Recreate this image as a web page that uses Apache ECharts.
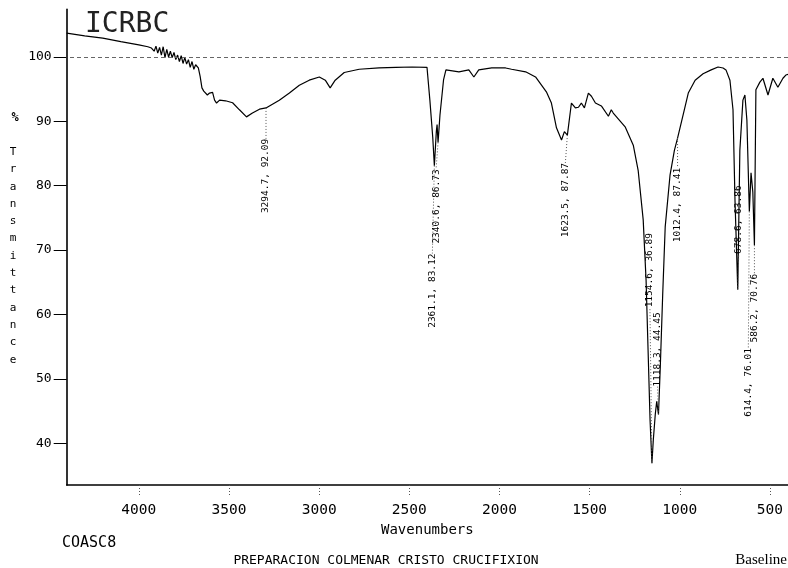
<!DOCTYPE html>
<html><head><meta charset="utf-8">
<script src="https://cdn.jsdelivr.net/npm/echarts@6/dist/echarts.min.js"></script>
<style>html,body{margin:0;padding:0;background:#fff}#c{width:788px;height:568px}</style>
</head><body><div id="c"></div>
<script>
// ---- data ----
const wavenumbers = [4400,4300,4200,4100,4000,3950,3930,3915,3905,3895,3885,3875,3865,3855,3845,3835,3825,3815,3805,3795,3785,3775,3765,3755,3745,3735,3725,3715,3705,3695,3685,3670,3660,3650,3640,3630,3620,3608,3591,3580,3569,3552,3519,3480,3442,3403,3370,3331,3294.7,3221,3165,3110,3055,2999,2966,2939,2911,2861,2778,2668,2574,2485,2402,2386,2370,2361.1,2350,2346,2340.6,2330,2310,2297,2225,2170,2142,2115,2043,1966,1933,1855,1800,1784,1740,1712,1684,1656,1640,1623.5,1601,1579,1562,1546,1529,1507,1490,1468,1435,1396,1380,1369,1302,1258,1231,1203,1187,1176,1165,1154.6,1147,1136,1128,1118.3,1108,1095,1081,1054,1030,1012.4,975,953,915,871,826,788,760,744,722,705,694,678.6,667,650,639,628,614.4,605,595,586.2,578,556,539,511,484,456,428,412,400];
const transmittance = [103.7,103.3,102.95,102.4,101.9,101.6,101.4,100.9,101.7,100.6,101.5,100.3,101.6,99.9,101.2,100.0,100.9,99.9,100.7,99.6,100.3,99.3,100.2,99.0,99.9,98.9,99.6,98.4,99.3,98.1,98.8,98.3,97.0,95.2,94.7,94.6,94.1,94.4,94.5,93.3,92.85,93.3,93.2,92.9,91.8,90.7,91.3,91.9,92.09,93.3,94.4,95.6,96.4,96.9,96.4,95.2,96.4,97.6,98.1,98.3,98.4,98.45,98.4,93.3,87.5,83.12,88.5,89.5,86.73,91.0,96.5,98.0,97.7,98.0,96.9,98.0,98.3,98.3,98.1,97.7,96.9,96.3,94.6,92.85,89.0,87.1,88.4,87.87,92.85,92.1,92.2,92.85,92.1,94.4,93.9,92.85,92.4,90.8,91.8,91.3,89.1,86.3,82.4,74.7,65.3,54.5,43.6,36.89,40.5,44.5,46.5,44.45,52.0,63.0,73.6,81.7,85.5,87.41,91.8,94.4,96.4,97.4,98.0,98.45,98.3,98.0,96.4,91.8,77.8,63.86,85.5,93.3,94.1,90.2,76.01,82.0,79.0,70.76,94.9,96.1,96.7,94.1,96.7,95.3,96.7,97.2,97.3];

const peakWavenumbers = [3294.7, 2361.1, 2340.6, 1623.5, 1154.6, 1118.3, 1012.4, 678.6, 614.4, 586.2];
const peakTransmittance = [92.09, 83.12, 86.73, 87.87, 36.89, 44.45, 87.41, 63.86, 76.01, 70.76];

const xTickValues = [4000, 3500, 3000, 2500, 2000, 1500, 1000, 500];
const yTickValues = [40, 50, 60, 70, 80, 90, 100];

const titleText = 'ICRBC';
const xAxisTitle = 'Wavenumbers';
const yAxisTitle = 'Transmittance';
const sampleCode = 'COASC8';
const sampleName = 'PREPARACION COLMENAR CRISTO CRUCIFIXION';
const footerRight = 'Baseline';

// ---- layout (pixel offsets of each peak label from its peak point) ----
const labelOffsets = [[0,68],[-2,125],[-2,64],[-2,65],[-2,-193],[-1,-65],[0,67],[1,-70],[-1,171],[0,63]];

const spectrum = wavenumbers.map((w, i) => [w, transmittance[i]]);
const peaks = peakWavenumbers.map((w, i) => [w, peakTransmittance[i]]);

const MONO = 'DejaVu Sans Mono';
const chart = echarts.init(document.getElementById('c'), null, {renderer: 'canvas'});

chart.setOption({
  animation: false,
  backgroundColor: '#fff',
  grid: {left: 66.7, right: -2, top: 9.4, bottom: 83},
  xAxis: {
    type: 'value', inverse: true, min: 400, max: 4400,
    name: xAxisTitle, nameLocation: 'middle', nameGap: 31,
    nameTextStyle: {fontFamily: MONO, fontSize: 14, color: '#000'},
    axisLine: {show: true, lineStyle: {color: '#000', width: 1.5}},
    axisTick: {show: true, customValues: xTickValues, length: 12, lineStyle: {color: '#555', type: [1, 2]}},
    axisLabel: {customValues: xTickValues, margin: 18, fontFamily: MONO, fontSize: 14.5, color: '#000',
      formatter: v => String(v)},
    splitLine: {show: false}
  },
  yAxis: {
    type: 'value', min: 33.5, max: 107.4,
    axisLine: {show: true, lineStyle: {color: '#000', width: 1.6}},
    axisTick: {show: true, customValues: yTickValues, length: 13, lineStyle: {color: '#000', width: 1}},
    axisLabel: {customValues: yTickValues, margin: 15, fontFamily: MONO, fontSize: 13, color: '#000',
      formatter: v => String(v)},
    splitLine: {show: false}
  },
  series: [
    {
      type: 'line', data: spectrum, showSymbol: false, symbol: 'none',
      lineStyle: {color: '#000', width: 1.2},
      markLine: {
        silent: true, symbol: 'none', label: {show: false},
        lineStyle: {color: '#666', type: [4, 3], width: 1},
        data: [{yAxis: 100}]
      },
      z: 3
    },
    {
      type: 'custom', data: peaks, clip: false, z: 4,
      encode: {x: 0, y: 1},
      renderItem: function (params, api) {
        const i = params.dataIndex;
        const w = api.value(0), t = api.value(1);
        const p = api.coord([w, t]);
        const off = labelOffsets[i];
        const cx = p[0] + off[0], cy = p[1] + off[1];
        const txt = w.toFixed(1) + ', ' + t.toFixed(2);
        const half = txt.length * 9.5 * 0.602 / 2;
        const endY = off[1] > 0 ? cy - half : cy + half;
        return {
          type: 'group',
          children: [
            {type: 'line', shape: {x1: p[0], y1: p[1], x2: cx, y2: endY},
             style: {stroke: '#555', lineWidth: 1, lineDash: [1, 2]}},
            {type: 'text', x: cx, y: cy, rotation: Math.PI / 2,
             style: {text: txt, font: '9.5px "' + MONO + '"', fill: '#000', align: 'center', verticalAlign: 'middle'}}
          ]
        };
      }
    }
  ],
  graphic: [
    {type: 'text', left: 85, top: 11, style: {text: titleText, font: '28px "' + MONO + '"', fill: '#222'}},
    {type: 'text', x: 15, y: 118, style: {text: '%', font: 'bold 12px "' + MONO + '"', fill: '#000', align: 'center', verticalAlign: 'middle'}},
    {type: 'text', x: 13, y: 143.4, style: {text: yAxisTitle.split('').join('\n'), font: '11px "' + MONO + '"', lineHeight: 17.3, fill: '#000', align: 'center', verticalAlign: 'top'}},
    {type: 'text', x: 62, y: 543, style: {text: sampleCode, font: '15px "' + MONO + '"', fill: '#000', align: 'left', verticalAlign: 'middle'}},
    {type: 'text', x: 386, y: 561, style: {text: sampleName, font: '13px "' + MONO + '"', fill: '#000', align: 'center', verticalAlign: 'middle'}},
    {type: 'text', x: 787, y: 560, style: {text: footerRight, font: '15px "Liberation Serif"', fill: '#000', align: 'right', verticalAlign: 'middle'}}
  ]
});
</script></body></html>
